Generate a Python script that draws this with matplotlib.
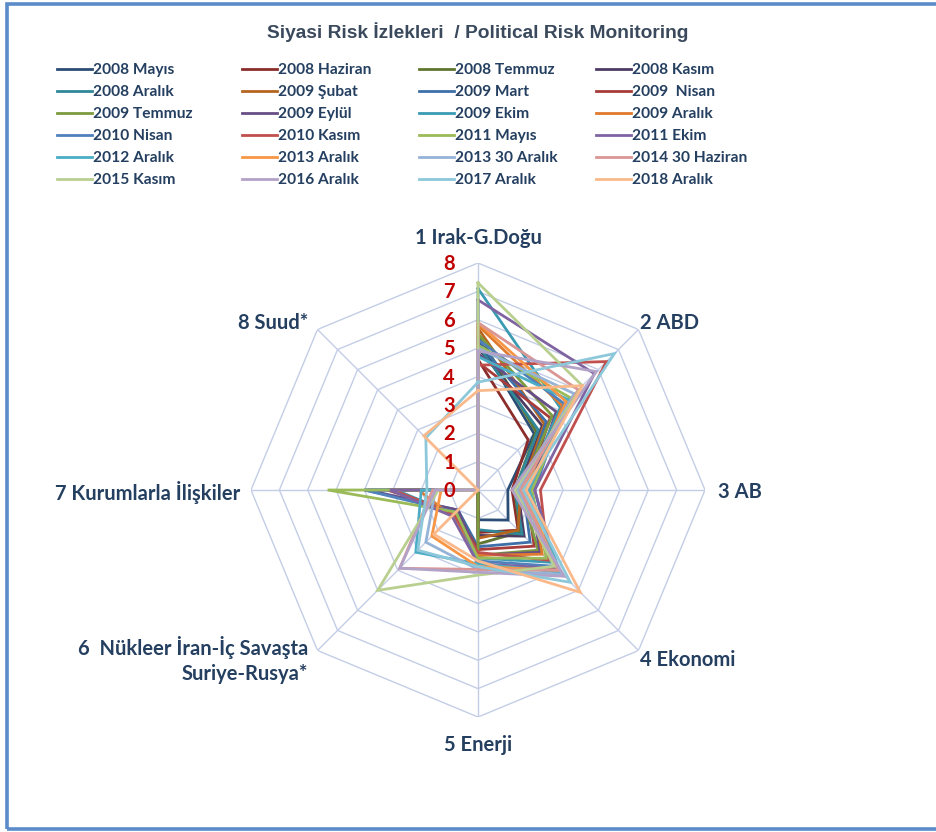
import matplotlib
matplotlib.use("Agg")
import matplotlib.pyplot as plt
import numpy as np
from matplotlib.transforms import offset_copy
from matplotlib.lines import Line2D
from matplotlib.patches import Rectangle

# ---------------- data ----------------
categories = ["1 Irak-G.Doğu", "2 ABD", "3 AB", "4 Ekonomi", "5 Enerji",
              "6  Nükleer İran-İç Savaşta\nSuriye-Rusya*",
              "7 Kurumlarla İlişkiler", "8 Suud*"]

series_names = ["2008 Mayıs", "2008 Haziran", "2008 Temmuz", "2008 Kasım",
                "2008 Aralık", "2009 Şubat", "2009 Mart", "2009  Nisan",
                "2009 Temmuz", "2009 Eylül", "2009 Ekim", "2009 Aralık",
                "2010 Nisan", "2010 Kasım", "2011 Mayıs", "2011 Ekim",
                "2012 Aralık", "2013 Aralık", "2013 30 Aralık", "2014 30 Haziran",
                "2015 Kasım", "2016 Aralık", "2017 Aralık", "2018 Aralık"]

series_colors = ["#2c4d75", "#8b2d2a", "#5f7530", "#4d3b62", "#2f8798", "#b6651f",
                 "#3d6fa8", "#a83c3a", "#7d9a3f", "#674f86", "#3a9bb3", "#e07a2e",
                 "#4f81bd", "#c0504d", "#9bbb59", "#8064a2", "#4bacc6", "#f79646",
                 "#95b3d7", "#d99694", "#b9cf8f", "#b3a2c7", "#8cc8da", "#f9b98a"]

# values per axis (one entry per series, in series order)
irak     = [5.3, 4.6, 5.5, 5.0, 5.1, 5.7, 5.2, 4.5, 5.5, 4.8, 7.1, 5.8,
            5.3, 4.4, 5.1, 6.7, 4.7, 5.9, 5.0, 5.9, 7.3, 4.9, 3.8, 3.5]
abd      = [2.8, 2.5, 2.9, 3.2, 3.0, 3.3, 3.4, 3.6, 3.7, 3.9, 4.1, 4.2,
            4.3, 6.4, 4.6, 5.8, 4.5, 4.4, 4.8, 5.0, 5.2, 5.9, 6.8, 5.2]
ab       = [1.05, 1.2, 1.3, 1.4, 1.3, 1.5, 1.6, 1.7, 1.5, 1.8, 1.6, 1.9,
            2.0, 2.2, 1.9, 2.0, 1.8, 1.6, 1.4, 1.5, 1.3, 1.2, 1.6, 1.7]
ekonomi  = [1.5, 2.0, 2.1, 2.3, 2.2, 2.0, 2.6, 2.8, 3.0, 3.1, 3.6, 3.2,
            3.8, 3.5, 3.4, 3.9, 4.1, 4.0, 4.2, 4.0, 3.8, 4.3, 4.6, 5.1]
enerji   = [1.05, 1.5, 1.9, 1.6, 1.4, 1.7, 2.0, 2.1, 2.3, 2.3, 2.4, 2.3,
            2.5, 2.2, 2.4, 2.6, 2.6, 2.7, 2.8, 2.8, 3.0, 2.9, 2.7, 2.5]
nukleer  = [0, 0, 0, 0, 0, 0, 1.0, 1.1, 0, 1.0, 1.2, 1.3,
            1.1, 1.2, 1.1, 1.3, 3.1, 2.3, 2.6, 3.9, 5.0, 3.9, 3.0, 2.2]
kurumlar = [3.0, 2.2, 2.5, 3.1, 2.6, 2.3, 4.0, 3.2, 3.0, 3.9, 2.9, 2.1,
            4.0, 3.0, 5.3, 3.1, 2.0, 1.3, 1.5, 1.6, 1.4, 1.5, 1.8, 0]
suud     = [0, 0, 0, 0, 0, 0, 0, 0, 0, 0, 0, 0,
            0, 0, 0, 0, 0, 0, 0, 0, 0, 0, 2.6, 2.7]

r_ticks = [0, 1, 2, 3, 4, 5, 6, 7, 8]
title = "Siyasi Risk İzlekleri  / Political Risk Monitoring"

# ---------------- figure ----------------
W, H = 936, 832
fig = plt.figure(figsize=(W / 100, H / 100), dpi=100)

def fx(px):
    return px / W

def fy(py):
    return 1 - py / H

# frame
fig.patches.append(Rectangle((fx(7), fy(829)), 1.2, fy(4) - fy(829), transform=fig.transFigure,
                             fill=False, edgecolor="#5b8bc9", lw=2.6, zorder=0))

cx, cy, R = 478, 490, 227
ax = fig.add_axes([fx(cx - R), fy(cy + R), (2 * R) / W, (2 * R) / H], projection="polar")
ax.set_theta_zero_location("N")
ax.set_theta_direction(-1)
ax.set_ylim(0, 8)
ax.grid(False)
ax.spines["polar"].set_visible(False)
ax.set_xticks([])
ax.set_yticks([])
ax.patch.set_alpha(0)

n = len(categories)
theta = np.arange(n) * 2 * np.pi / n
theta_c = np.append(theta, theta[0])

grid_c = "#c3cde6"
for r in r_ticks[1:]:
    ax.plot(theta_c, [r] * (n + 1), color=grid_c, lw=1.0, zorder=1)
for th in theta:
    ax.plot([th, th], [0, 8], color=grid_c, lw=1.0, zorder=1)

axes_vals = [irak, abd, ab, ekonomi, enerji, nukleer, kurumlar, suud]
for i, name in enumerate(series_names):
    vals = [a[i] for a in axes_vals]
    vals.append(vals[0])
    ax.plot(theta_c, vals, color=series_colors[i], lw=2.0, zorder=2 + i,
            solid_joinstyle="miter")

# red radial tick labels
tr = offset_copy(ax.transData, fig=fig, x=-29, y=-1, units="dots")
for r in r_ticks:
    ax.text(0, r, str(r), transform=tr, ha="center", va="center",
            color="#c00000", fontsize=14.5, fontweight="bold", family="Lato", zorder=40)

# category labels
lab_c = "#243f60"
lab_kw = dict(fontsize=14.5, fontweight="bold", family="Lato", color=lab_c)
fig.text(fx(478), fy(238), categories[0], ha="center", va="center", **lab_kw)
fig.text(fx(640), fy(323), categories[1], ha="left", va="center", **lab_kw)
fig.text(fx(718), fy(492), categories[2], ha="left", va="center", **lab_kw)
fig.text(fx(640), fy(660), categories[3], ha="left", va="center", **lab_kw)
fig.text(fx(478), fy(745), categories[4], ha="center", va="center", **lab_kw)
fig.text(fx(308), fy(660), categories[5], ha="right", va="center", linespacing=1.3, **lab_kw)
fig.text(fx(240), fy(492), categories[6], ha="right", va="center", **lab_kw)
fig.text(fx(308), fy(323), categories[7], ha="right", va="center", **lab_kw)

# title
fig.text(fx(478), fy(32), title, ha="center", va="center", fontsize=13.8,
         fontweight="bold", family="Liberation Sans", color="#3a4a5c")

# legend: 4 columns, row-wise order
col_x = [57, 242, 419, 596]
for c in range(4):
    idx = [r * 4 + c for r in range(6)]
    handles = [Line2D([], [], color=series_colors[i], lw=2.0) for i in idx]
    labels = [series_names[i] for i in idx]
    leg = fig.legend(handles, labels, loc="upper left",
                     bbox_to_anchor=(fx(col_x[c]), fy(63)), frameon=False,
                     handlelength=2.25, handletextpad=0.08, labelspacing=0.52,
                     borderaxespad=0, borderpad=0,
                     prop={"family": "Lato", "weight": "bold", "size": 11.2})
    for t in leg.get_texts():
        t.set_color(lab_c)

fig.savefig("out.png", dpi=100)
